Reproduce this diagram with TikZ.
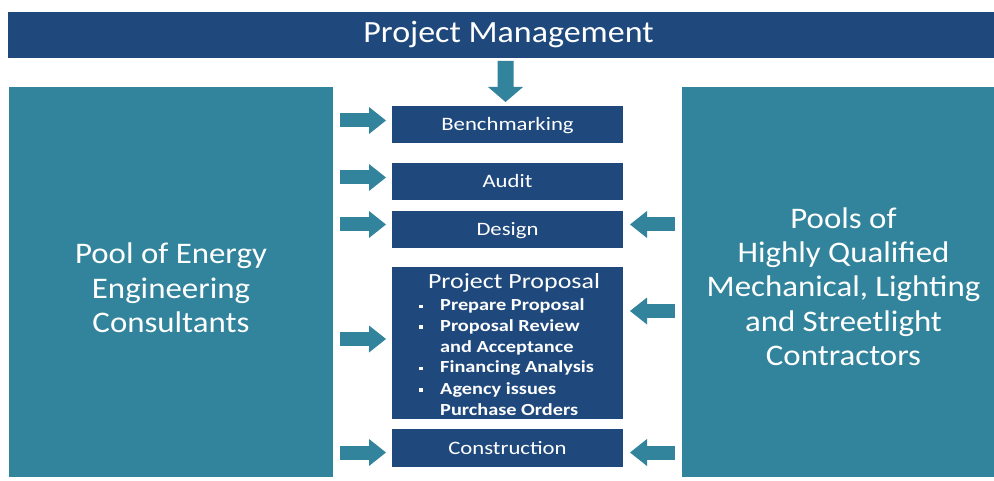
\documentclass[tikz,border=0pt]{standalone}
\usepackage{fontspec}
\setmainfont{Carlito}
\newfontfamily\fA{Carlito}[FakeStretch=1.1]
\newfontfamily\fB{Carlito}[FakeStretch=1.2]
\usetikzlibrary{arrows.meta,calc}
\definecolor{navybox}{HTML}{1F497D}
\definecolor{tealbox}{HTML}{31849B}
\newcommand{\sqbul}{\makebox[22bp][l]{\hspace{1bp}\rule[2.5bp]{3.6bp}{3.6bp}}}
\begin{document}
\begin{tikzpicture}[x=1bp,y=-1bp,
  box/.style={rectangle, inner sep=0pt, outer sep=0pt, anchor=north west, text=white, draw=none},
  stepbox/.style={box, fill=navybox, minimum width=231bp, text height=13bp, text depth=0bp, font=\fB\fontsize{19}{23}\selectfont},
  pooltext/.style={text=white, align=center, inner sep=0pt, font=\fA\fontsize{30}{34.5}\selectfont},
  bul/.style={anchor=base west, inner sep=0pt, text=white, font=\fB\bfseries\fontsize{17}{21}\selectfont},
  barrow/.style={draw=tealbox, line width=14bp, -{Triangle[width=27bp,length=17bp,line width=0pt]}},
  darrow/.style={draw=tealbox, line width=16bp, -{Triangle[width=35bp,length=15bp,line width=0pt]}}]
\useasboundingbox[fill=white] (0,0) rectangle (994,481);
% top bar
\node[box, fill=navybox, minimum width=1001bp, minimum height=46bp, font=\fA\fontsize{31}{37}\selectfont] (pm) at (8,12) {Project Management};
% pools
\node[box, fill=tealbox, minimum width=324bp, minimum height=390bp] (L) at (9,87) {};
\node[pooltext] (Lt) at (171,288) {Pool of Energy\\Engineering\\Consultants};
\node[box, fill=tealbox, minimum width=323bp, minimum height=390bp] (R) at (682,87) {};
\node[pooltext] (Rt) at (843.5,286.5) {Pools of\\Highly Qualified\\Mechanical, Lighting\\and Streetlight\\Contractors};
% steps
\node[stepbox, minimum height=37bp] (bench) at (392,106) {Benchmarking};
\node[stepbox, minimum height=37bp] (audit) at (392,163) {Audit};
\node[stepbox, minimum height=37bp] (design) at (392,211) {Design};
\node[box, fill=navybox, minimum width=231bp, minimum height=152bp] (prop) at (392,267) {};
\node[stepbox, minimum height=38bp] (constr) at (392,429) {Construction};
% proposal content
\node[anchor=base, inner sep=0pt, text=white, font=\fB\fontsize{21.7}{26}\selectfont] (propt) at (514,288.7) {Project Proposal};
\node[bul] (b1) at (418,310.7) {\sqbul Prepare Proposal};
\node[bul] (b2) at (418,331.5) {\sqbul Proposal Review};
\node[bul] (b3) at (440,352.3) {and Acceptance};
\node[bul] (b4) at (418,373) {\sqbul Financing Analysis};
\node[bul] (b5) at (418,394) {\sqbul Agency issues};
\node[bul] (b6) at (440,415) {Purchase Orders};
% arrows
\draw[darrow] ([xshift=-3bp,yshift=-3bp]pm.south) -- ([xshift=-2bp,yshift=4bp]bench.north);
\draw[barrow] ($(L.east|-bench.west)+(7,-4)$) -- ($(bench.west)+(-6,-4)$);
\draw[barrow] ($(L.east|-audit.west)+(7,-4)$) -- ($(audit.west)+(-6,-4)$);
\draw[barrow] ($(L.east|-design.west)+(7,-5)$) -- ($(design.west)+(-6,-5)$);
\draw[barrow] ($(L.east|-prop.west)+(7,-4)$) -- ($(prop.west)+(-6,-4)$);
\draw[barrow] ($(L.east|-constr.west)+(7,4.5)$) -- ($(constr.west)+(-6,4.5)$);
\draw[barrow] ($(R.west|-design.east)+(-7,-5)$) -- ($(design.east)+(7,-5)$);
\draw[barrow] ($(R.west|-prop.east)+(-7,-32)$) -- ($(prop.east)+(7,-32)$);
\draw[barrow] ($(R.west|-constr.east)+(-7,4.5)$) -- ($(constr.east)+(7,4.5)$);
\end{tikzpicture}
\end{document}
